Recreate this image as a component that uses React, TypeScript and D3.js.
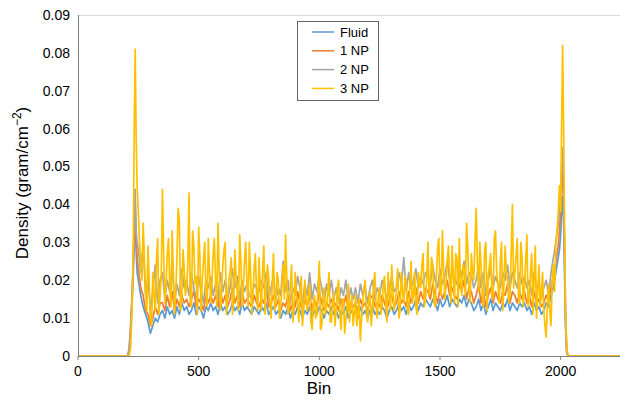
import React from "react";
import * as d3 from "d3";

// Bin positions: left edge ramp, core (every 10 bins), right edge ramp
const leftBins = [0, 205, 212, 218, 224, 229, 233, 237, 241, 245];
const coreBins = d3.range(250, 2000, 10);
const coreMidBins = d3.range(255, 1990, 10);
const rightBins = [1995, 2000, 2004, 2008, 2012, 2016, 2020, 2025, 2030, 2250];

const seriesNames = ["Fluid", "1 NP", "2 NP", "3 NP"];
const seriesColors = ["#5B9BD5", "#ED7D31", "#A5A5A5", "#FFC000"];

const xTicks = [0, 500, 1000, 1500, 2000];
const yTicks = [0, 0.01, 0.02, 0.03, 0.04, 0.05, 0.06, 0.07, 0.08, 0.09];
const yTickLabels = ["0", "0.01", "0.02", "0.03", "0.04", "0.05", "0.06", "0.07", "0.08", "0.09"];

const fluidLeft = [0, 0, 0.001, 0.006, 0.014, 0.022, 0.03, 0.035, 0.028, 0.022];
const fluidCore = [
  0.02, 0.016, 0.013, 0.011, 0.009, 0.006, 0.008, 0.01, 0.009, 0.011,
  0.012, 0.01, 0.013, 0.011, 0.012, 0.01, 0.013, 0.011, 0.014, 0.012,
  0.013, 0.011, 0.012, 0.014, 0.011, 0.013, 0.012, 0.01, 0.013, 0.012,
  0.014, 0.012, 0.013, 0.011, 0.014, 0.012, 0.013, 0.011, 0.012, 0.014,
  0.012, 0.013, 0.011, 0.014, 0.012, 0.013, 0.012, 0.011, 0.013, 0.012,
  0.011, 0.013, 0.012, 0.014, 0.011, 0.012, 0.013, 0.011, 0.012, 0.01,
  0.012, 0.011, 0.013, 0.01, 0.012, 0.011, 0.013, 0.012, 0.01, 0.012,
  0.011, 0.013, 0.01, 0.012, 0.011, 0.013, 0.012, 0.01, 0.012, 0.011,
  0.013, 0.011, 0.012, 0.01, 0.012, 0.011, 0.013, 0.01, 0.012, 0.011,
  0.012, 0.01, 0.013, 0.011, 0.012, 0.01, 0.012, 0.013, 0.011, 0.012,
  0.011, 0.013, 0.012, 0.01, 0.012, 0.013, 0.011, 0.012, 0.014, 0.012,
  0.013, 0.011, 0.014, 0.012, 0.013, 0.015, 0.012, 0.014, 0.013, 0.015,
  0.014, 0.013, 0.015, 0.014, 0.012, 0.015, 0.013, 0.014, 0.016, 0.013,
  0.015, 0.014, 0.013, 0.015, 0.014, 0.016, 0.013, 0.015, 0.014, 0.012,
  0.013, 0.015, 0.012, 0.014, 0.011, 0.013, 0.015, 0.012, 0.014, 0.013,
  0.012, 0.014, 0.013, 0.015, 0.012, 0.014, 0.013, 0.012, 0.014, 0.013,
  0.014, 0.012, 0.013, 0.011, 0.014, 0.012, 0.013, 0.011, 0.012, 0.014,
  0.013, 0.016, 0.018, 0.022, 0.026,
];
const fluidRight = [0.028, 0.032, 0.038, 0.042, 0.036, 0.022, 0.008, 0.001, 0, 0];

const np1Left = [0, 0, 0.002, 0.008, 0.016, 0.025, 0.033, 0.04, 0.03, 0.026];
const np1Core = [
  0.023, 0.018, 0.016, 0.012, 0.011, 0.008, 0.01, 0.013, 0.011, 0.014,
  0.014, 0.012, 0.016, 0.013, 0.017, 0.012, 0.015, 0.013, 0.016, 0.014,
  0.015, 0.013, 0.015, 0.017, 0.013, 0.015, 0.014, 0.012, 0.016, 0.014,
  0.016, 0.014, 0.016, 0.013, 0.017, 0.014, 0.016, 0.013, 0.015, 0.018,
  0.014, 0.016, 0.013, 0.017, 0.014, 0.015, 0.014, 0.013, 0.016, 0.014,
  0.013, 0.015, 0.014, 0.018, 0.013, 0.014, 0.016, 0.013, 0.015, 0.012,
  0.014, 0.013, 0.016, 0.012, 0.014, 0.013, 0.017, 0.014, 0.012, 0.015,
  0.013, 0.016, 0.012, 0.015, 0.013, 0.017, 0.014, 0.012, 0.014, 0.013,
  0.015, 0.013, 0.014, 0.012, 0.015, 0.013, 0.016, 0.012, 0.014, 0.013,
  0.014, 0.012, 0.015, 0.013, 0.014, 0.012, 0.015, 0.016, 0.013, 0.014,
  0.013, 0.016, 0.014, 0.012, 0.015, 0.016, 0.013, 0.014, 0.017, 0.014,
  0.015, 0.013, 0.017, 0.014, 0.016, 0.018, 0.014, 0.017, 0.015, 0.018,
  0.017, 0.015, 0.019, 0.016, 0.014, 0.018, 0.015, 0.017, 0.02, 0.016,
  0.018, 0.016, 0.015, 0.019, 0.017, 0.02, 0.015, 0.018, 0.017, 0.014,
  0.016, 0.019, 0.014, 0.017, 0.013, 0.016, 0.018, 0.014, 0.017, 0.015,
  0.014, 0.017, 0.016, 0.019, 0.014, 0.017, 0.016, 0.014, 0.017, 0.015,
  0.017, 0.014, 0.016, 0.013, 0.017, 0.014, 0.015, 0.013, 0.014, 0.016,
  0.015, 0.018, 0.021, 0.025, 0.029,
];
const np1Right = [0.033, 0.038, 0.045, 0.05, 0.042, 0.03, 0.012, 0.002, 0, 0];

const np2Left = [0, 0, 0.001, 0.007, 0.015, 0.024, 0.036, 0.044, 0.033, 0.03];
const np2Core = [
  0.028, 0.022, 0.03, 0.016, 0.021, 0.012, 0.017, 0.024, 0.014, 0.02,
  0.022, 0.015, 0.02, 0.017, 0.024, 0.014, 0.019, 0.016, 0.023, 0.018,
  0.02, 0.016, 0.022, 0.018, 0.015, 0.021, 0.017, 0.014, 0.02, 0.018,
  0.021, 0.016, 0.019, 0.015, 0.022, 0.017, 0.02, 0.015, 0.018, 0.023,
  0.018, 0.021, 0.015, 0.02, 0.017, 0.019, 0.016, 0.015, 0.019, 0.018,
  0.017, 0.02, 0.018, 0.022, 0.015, 0.018, 0.021, 0.015, 0.018, 0.016,
  0.025, 0.017, 0.02, 0.014, 0.018, 0.016, 0.021, 0.018, 0.014, 0.019,
  0.016, 0.022, 0.015, 0.019, 0.017, 0.021, 0.018, 0.014, 0.019, 0.016,
  0.02, 0.015, 0.018, 0.014, 0.018, 0.016, 0.02, 0.014, 0.018, 0.015,
  0.018, 0.014, 0.019, 0.016, 0.018, 0.014, 0.018, 0.02, 0.015, 0.018,
  0.016, 0.02, 0.018, 0.015, 0.018, 0.021, 0.017, 0.018, 0.022, 0.019,
  0.026, 0.017, 0.022, 0.018, 0.02, 0.023, 0.018, 0.021, 0.019, 0.022,
  0.021, 0.019, 0.024, 0.02, 0.018, 0.023, 0.019, 0.021, 0.025, 0.02,
  0.022, 0.02, 0.019, 0.024, 0.021, 0.025, 0.019, 0.022, 0.021, 0.018,
  0.02, 0.024, 0.018, 0.022, 0.016, 0.02, 0.023, 0.018, 0.021, 0.019,
  0.018, 0.022, 0.02, 0.024, 0.018, 0.022, 0.02, 0.018, 0.022, 0.019,
  0.021, 0.018, 0.02, 0.016, 0.022, 0.018, 0.019, 0.015, 0.018, 0.02,
  0.016, 0.022, 0.026, 0.03, 0.035,
];
const np2Right = [0.038, 0.042, 0.05, 0.055, 0.045, 0.028, 0.01, 0.001, 0, 0];

const np3Left = [0, 0, 0, 0.002, 0.012, 0.03, 0.06, 0.081, 0.058, 0.045];
const np3Core = [
  0.038, 0.024, 0.035, 0.017, 0.029, 0.009, 0.022, 0.012, 0.031, 0.016,
  0.044, 0.014, 0.027, 0.019, 0.033, 0.011, 0.026, 0.036, 0.015, 0.023,
  0.018, 0.043, 0.013, 0.029, 0.021, 0.034, 0.012, 0.025, 0.017, 0.031,
  0.014, 0.027, 0.02, 0.035, 0.012, 0.024, 0.03, 0.016, 0.022, 0.011,
  0.028, 0.017, 0.032, 0.013, 0.025, 0.019, 0.03, 0.011, 0.023, 0.016,
  0.026, 0.012, 0.029, 0.018, 0.021, 0.01, 0.027, 0.015, 0.02, 0.013,
  0.024, 0.032, 0.011, 0.019, 0.009, 0.022, 0.014, 0.017, 0.008, 0.02,
  0.012, 0.019, 0.007, 0.016, 0.011, 0.025, 0.008, 0.018, 0.013, 0.022,
  0.009, 0.017, 0.012, 0.02, 0.007, 0.015, 0.01, 0.019, 0.013, 0.008,
  0.016, 0.011, 0.004, 0.014, 0.02, 0.009, 0.017, 0.012, 0.022, 0.01,
  0.018, 0.013, 0.021, 0.009, 0.016, 0.024, 0.012, 0.019, 0.01, 0.022,
  0.014, 0.02, 0.011, 0.025, 0.016, 0.013, 0.022, 0.018, 0.027, 0.015,
  0.03, 0.019, 0.024, 0.013, 0.028, 0.017, 0.033, 0.015, 0.025, 0.021,
  0.029, 0.014, 0.026, 0.031, 0.016, 0.023, 0.035, 0.018, 0.027, 0.02,
  0.039, 0.017, 0.024, 0.013, 0.03, 0.021, 0.027, 0.015, 0.033, 0.019,
  0.025, 0.012, 0.029, 0.02, 0.016, 0.04, 0.022, 0.031, 0.014, 0.026,
  0.018, 0.032, 0.015, 0.027, 0.021, 0.01, 0.024, 0.017, 0.012, 0.005,
  0.019, 0.008, 0.024, 0.03, 0.038,
];
// 3 NP values read at the in-between bins (255, 265, ... 1985)
const np3CoreMid = [
  0.03, 0.02, 0.026, 0.012, 0.02, 0.008, 0.016, 0.025, 0.011, 0.021,
  0.027, 0.019, 0.031, 0.013, 0.022, 0.017, 0.039, 0.012, 0.028, 0.016,
  0.024, 0.015, 0.033, 0.019, 0.011, 0.026, 0.02, 0.03, 0.013, 0.022,
  0.019, 0.031, 0.013, 0.023, 0.017, 0.028, 0.011, 0.02, 0.026, 0.015,
  0.021, 0.012, 0.025, 0.018, 0.03, 0.013, 0.022, 0.017, 0.027, 0.012,
  0.018, 0.023, 0.011, 0.024, 0.014, 0.019, 0.012, 0.022, 0.01, 0.018,
  0.015, 0.021, 0.013, 0.024, 0.012, 0.016, 0.009, 0.021, 0.012, 0.015,
  0.016, 0.009, 0.014, 0.01, 0.018, 0.007, 0.015, 0.011, 0.017, 0.009,
  0.014, 0.008, 0.018, 0.011, 0.015, 0.006, 0.013, 0.009, 0.016, 0.011,
  0.008, 0.015, 0.01, 0.018, 0.012, 0.015, 0.008, 0.019, 0.013, 0.016,
  0.011, 0.019, 0.014, 0.022, 0.012, 0.017, 0.014, 0.023, 0.012, 0.017,
  0.021, 0.012, 0.018, 0.014, 0.022, 0.011, 0.019, 0.024, 0.013, 0.02,
  0.016, 0.026, 0.014, 0.021, 0.031, 0.016, 0.023, 0.019, 0.029, 0.014,
  0.021, 0.027, 0.013, 0.019, 0.024, 0.016, 0.029, 0.014, 0.022, 0.03,
  0.024, 0.03, 0.016, 0.028, 0.012, 0.024, 0.016, 0.031, 0.022, 0.014,
  0.03, 0.019, 0.022, 0.014, 0.027, 0.018, 0.026, 0.016, 0.03, 0.013,
  0.025, 0.013, 0.022, 0.011, 0.029, 0.017, 0.013, 0.022, 0.008, 0.014,
  0.012, 0.02, 0.017, 0.033,
];
const np3Right = [0.045, 0.038, 0.061, 0.082, 0.062, 0.035, 0.012, 0.002, 0, 0];

type Pt = [number, number];
const zip = (bins: number[], vals: number[]): Pt[] =>
  vals.slice(0, bins.length).map((v, i) => [bins[i], v]);

const seriesPoints: Pt[][] = [
  [...zip(leftBins, fluidLeft), ...zip(coreBins, fluidCore), ...zip(rightBins, fluidRight)],
  [...zip(leftBins, np1Left), ...zip(coreBins, np1Core), ...zip(rightBins, np1Right)],
  [...zip(leftBins, np2Left), ...zip(coreBins, np2Core), ...zip(rightBins, np2Right)],
  [
    ...zip(leftBins, np3Left),
    ...[...zip(coreBins, np3Core), ...zip(coreMidBins, np3CoreMid)].sort((a, b) => a[0] - b[0]),
    ...zip(rightBins, np3Right),
  ],
];

const W = 620;
const H = 400;
const FONT = "'Liberation Sans', Arial, Helvetica, sans-serif";

export default function App() {
  const x = d3.scaleLinear().domain([0, 2250]).range([78, 621]);
  const y = d3.scaleLinear().domain([0, 0.09]).range([356, 15]);
  const line = d3
    .line<Pt>()
    .x((d) => x(d[0]))
    .y((d) => y(d[1]));

  return (
    <svg
      width={W}
      height={H}
      style={{ position: "absolute", left: 0, top: 0, background: "#fff" }}
      fontFamily={FONT}
    >
      <line x1={78} x2={620} y1={y(0.09) + 0.5} y2={y(0.09) + 0.5} stroke="#d9d9d9" strokeWidth={1} />
      {seriesPoints.map((pts, i) => (
        <path
          key={seriesNames[i]}
          d={line(pts) || ""}
          fill="none"
          stroke={seriesColors[i]}
          strokeWidth={1.7}
          strokeLinejoin="round"
        />
      ))}
      <line x1={78.5} x2={78.5} y1={y(0.09)} y2={356} stroke="#808080" strokeWidth={1} />
      <line x1={78} x2={621} y1={356.5} y2={356.5} stroke="#808080" strokeWidth={1} />
      {yTicks.map((t, i) => (
        <text key={"y" + t} x={70} y={y(t)} dy="0.35em" textAnchor="end" fontSize={14} fill="#000">
          {yTickLabels[i]}
        </text>
      ))}
      {xTicks.map((t) => (
        <g key={"x" + t}>
          <line x1={x(t)} x2={x(t)} y1={356} y2={360} stroke="#808080" />
          <text x={x(t)} y={376} textAnchor="middle" fontSize={14} fill="#000">
            {t}
          </text>
        </g>
      ))}
      <text x={319} y={394} textAnchor="middle" fontSize={17} fill="#000">
        Bin
      </text>
      <text transform="translate(28,183) rotate(-90)" textAnchor="middle" fontSize={17} fill="#000">
        Density (gram/cm
        <tspan dy={-7} fontSize={12}>
          −2
        </tspan>
        <tspan dy={7}>)</tspan>
      </text>
      <rect x={297.5} y={21.5} width={81} height={79} fill="#fff" stroke="#666" strokeWidth={1} />
      {seriesNames.map((n, i) => (
        <g key={"lg" + n}>
          <line
            x1={312}
            x2={334}
            y1={32 + i * 18.8}
            y2={32 + i * 18.8}
            stroke={seriesColors[i]}
            strokeWidth={1.5}
          />
          <text x={340} y={32 + i * 18.8} dy="0.35em" fontSize={13} fill="#000">
            {n}
          </text>
        </g>
      ))}
    </svg>
  );
}
